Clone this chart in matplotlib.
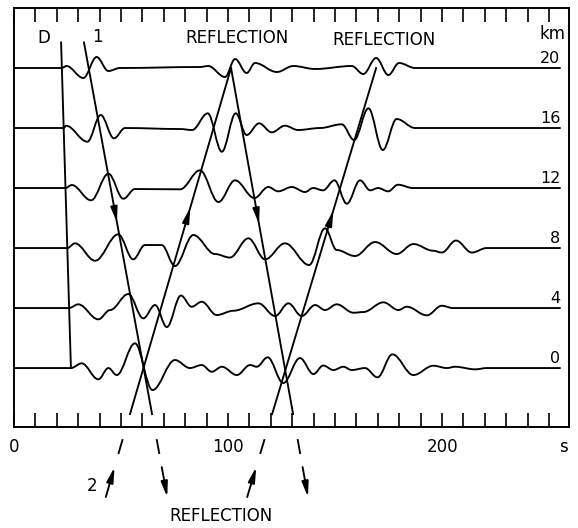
import numpy as np
import matplotlib
matplotlib.use('Agg')
import matplotlib.pyplot as plt
from matplotlib.path import Path
from matplotlib.patches import PathPatch
from matplotlib.ticker import MultipleLocator

# distance of each seismogram (km) and the time the direct wave D reaches it (s)
distances = [20, 16, 12, 8, 4, 0]
onsets = [22.3, 23.2, 24.0, 24.9, 25.7, 26.6]

# extrema of each trace after the onset: time (s), amplitude (arbitrary units)
t20 = [24.5, 32.4, 38.6, 44.1, 49.5, 86.9, 90.7, 98.6, 103.3, 108.7, 112.6, 122.8,
       130.5, 140.7, 157.8, 163.2, 169.2, 174.9, 179.9, 187.4, 255.1]
a20 = [2, -10, 11, -3, 0, 1, 2, -9, 9, -5, 5, -4,
       2, -1, 2, -6, 10, -7, 5, 0, 0]

t16 = [24.3, 34.3, 40.5, 46.7, 51.9, 77.6, 83.2, 90.5, 97.1, 103.6, 108.7, 114.5,
       120.4, 126.6, 132.7, 143.0, 153.1, 158.9, 165.6, 172.3, 178.8, 187.4, 255.1]
a16 = [2.3, -13.7, 13, -10.3, 0, -1, -2, 14.7, -23.7, 14.7, -7, 4.7,
       -4.3, 2.3, -2, 0, 3.7, -12, 19.7, -22, 9, 0, 0]

t12 = [27.0, 36.0, 44.1, 51.1, 56.5, 77.6, 86.9, 95.5, 103.3, 112.3, 118.8, 123.4,
       129.8, 136.0, 139.7, 144.4, 149.7, 155.5, 161.7, 166.4, 170.1, 174.8, 179.4,
       186.4, 255.1]
a12 = [3, -12.3, 14.3, -10.7, -1, -1.3, 17.7, -14, 7.7, -10, 1, -3.3,
       1, -4, 0, -2.3, 7.7, -15.7, 7.7, -2.3, 0, -3.3, 3.3,
       0, 0]

t8 = [28.5, 37.9, 48.7, 55.7, 61.2, 69.0, 75.2, 83.8, 93.9, 100.9, 109.5, 117.3,
      126.6, 137.9, 145.3, 150.8, 159.3, 168.7, 178.8, 186.6, 195.8, 199.9, 206.5,
      213.9, 220.9, 255.1]
a8 = [4.7, -12.7, 13.7, -11.3, 3, 3, -18, 13, -6, -9.5, 9.7, -11.3,
      4.7, -17, 19.7, -2, -8, 6, -6, 4, -2.7, -4.5, 7.5,
      -4.5, 0, 0]

t4 = [30.0, 39.4, 44.9, 53.4, 60.4, 65.9, 71.4, 78.0, 83.0, 87.7, 94.7, 102.5,
      114.2, 122.0, 128.2, 134.4, 140.7, 145.3, 150.8, 158.6, 163.2, 172.6, 179.6,
      183.5, 192.9, 199.9, 205.1, 255.1]
a4 = [3.7, -11.3, -2, 14, -10.3, 3, -19, 12.5, 1.3, 6.3, -7, -2.7,
      4.7, -8, 4.7, -8, 3, -2, 3.7, -4.7, -4, 5.7, -2,
      1.3, -7.3, 2.3, 0, 0]

t0 = [31.6, 39.4, 44.1, 48.0, 56.5, 64.7, 75.2, 82.2, 87.7, 92.4, 97.1, 104.1,
      110.3, 113.4, 118.5, 125.8, 133.6, 139.9, 144.5, 149.2, 153.9, 157.8, 164.0,
      169.8, 176.8, 186.6, 195.9, 202.2, 206.1, 215.4, 221.0, 255.1]
a0 = [4.7, -11.3, 0, -7, 24.7, -22, 8, 0, 3, -3.7, 1.3, -7,
      3, 1.3, 10.7, -15, 10, -6, 2.5, -2, 1.3, -2, 0,
      -9.3, 13.7, -7, 2.3, 0, 1.3, -1.3, 0, 0]

trace_t = [t20, t16, t12, t8, t4, t0]
trace_a = [a20, a16, a12, a8, a4, a0]
gain = 1 / 15.0   # amplitude units -> km on the plot

# travel-time lines: (time at ends, distance at ends)
direct_t, direct_km = [22.0, 26.6], [21.7, 0.0]
phase1_t, phase1_km = [32.7, 64.5], [21.7, -3.07]
phase2_t, phase2_km = [54.2, 101.4], [-3.07, 20.0]
refl1_t, refl1_km = [101.4, 130.4], [20.0, -3.07]
refl2_t, refl2_km = [120.6, 169.2], [-3.07, 20.0]

fig = plt.figure(figsize=(5.78, 5.28), dpi=100)
ax = fig.add_axes([14 / 578, 101 / 528, 555 / 578, 419 / 528])
ax.set_xlim(0, 259.3)
ax.set_ylim(-3.93, 24.0)

lw = 1.35

# seismograms drawn as smooth bezier curves through the read extrema
k = 0.363
for d, t_on, ts, amps in zip(distances, onsets, trace_t, trace_a):
    pts = [(0.0, d), (t_on, d)] + [(t, d + a * gain) for t, a in zip(ts, amps)]
    verts = [pts[0], pts[1]]
    codes = [Path.MOVETO, Path.LINETO]
    for (x0, y0), (x1, y1) in zip(pts[1:-1], pts[2:]):
        dx = x1 - x0
        verts += [(x0 + k * dx, y0), (x1 - k * dx, y1), (x1, y1)]
        codes += [Path.CURVE4] * 3
    ax.add_patch(PathPatch(Path(verts, codes), fill=False, lw=lw, color='k',
                           capstyle='round', joinstyle='round'))
    ax.text(255.3, d + 0.33, str(d), ha='right', va='baseline', fontsize=11.5)

ax.plot(direct_t, direct_km, color='k', lw=lw)
lines = [(phase1_t, phase1_km, 'down', 9.7),
         (phase2_t, phase2_km, 'up', 10.7),
         (refl1_t, refl1_km, 'down', 9.6),
         (refl2_t, refl2_km, 'up', 10.5)]
arrow = dict(arrowstyle='-|>,head_length=0.9,head_width=0.2', color='k',
             lw=lw, shrinkA=0, shrinkB=0)
for ts, kms, way, tip_km in lines:
    ax.plot(ts, kms, color='k', lw=lw)
    slope = (ts[1] - ts[0]) / (kms[1] - kms[0])
    t_at = lambda km: ts[0] + slope * (km - kms[0])
    base_km = tip_km + (1.0 if way == 'down' else -1.0)
    ax.annotate('', xy=(t_at(tip_km), tip_km), xytext=(t_at(base_km), base_km),
                arrowprops=arrow)
    # continuation below the time axis
    ax.plot([t_at(-4.8), t_at(-5.67)], [-4.8, -5.67], color='k', lw=lw,
            clip_on=False)
    if way == 'down':
        tip, base = -8.6, -6.6
    else:
        tip, base = -6.6, -8.6
    ax.annotate('', xy=(t_at(tip), tip), xytext=(t_at(base), base),
                arrowprops=arrow, annotation_clip=False)

ax.text(13.8, 22.0, 'D', ha='center', va='center', fontsize=12)
ax.text(38.8, 22.1, '1', ha='center', va='center', fontsize=12)
ax.text(104.2, 22.0, 'REFLECTION', ha='center', va='center', fontsize=12)
ax.text(172.9, 21.9, 'REFLECTION', ha='center', va='center', fontsize=12)
ax.text(257.6, 22.3, 'km', ha='right', va='center', fontsize=12)
ax.text(36.4, -7.87, '2', ha='center', va='center', fontsize=12)
ax.text(96.7, -9.87, 'REFLECTION', ha='center', va='center', fontsize=12)
ax.text(256.5, -0.048, 's', ha='center', va='center', fontsize=12,
        transform=ax.get_xaxis_transform())

ax.xaxis.set_major_locator(MultipleLocator(100))
ax.xaxis.set_minor_locator(MultipleLocator(10))
ax.set_yticks([])
ax.tick_params(axis='x', which='both', direction='in', top=True, length=10,
               width=1.2, labelsize=12, pad=8)
for sp in ax.spines.values():
    sp.set_linewidth(1.4)

fig.savefig('out.png', dpi=100)
